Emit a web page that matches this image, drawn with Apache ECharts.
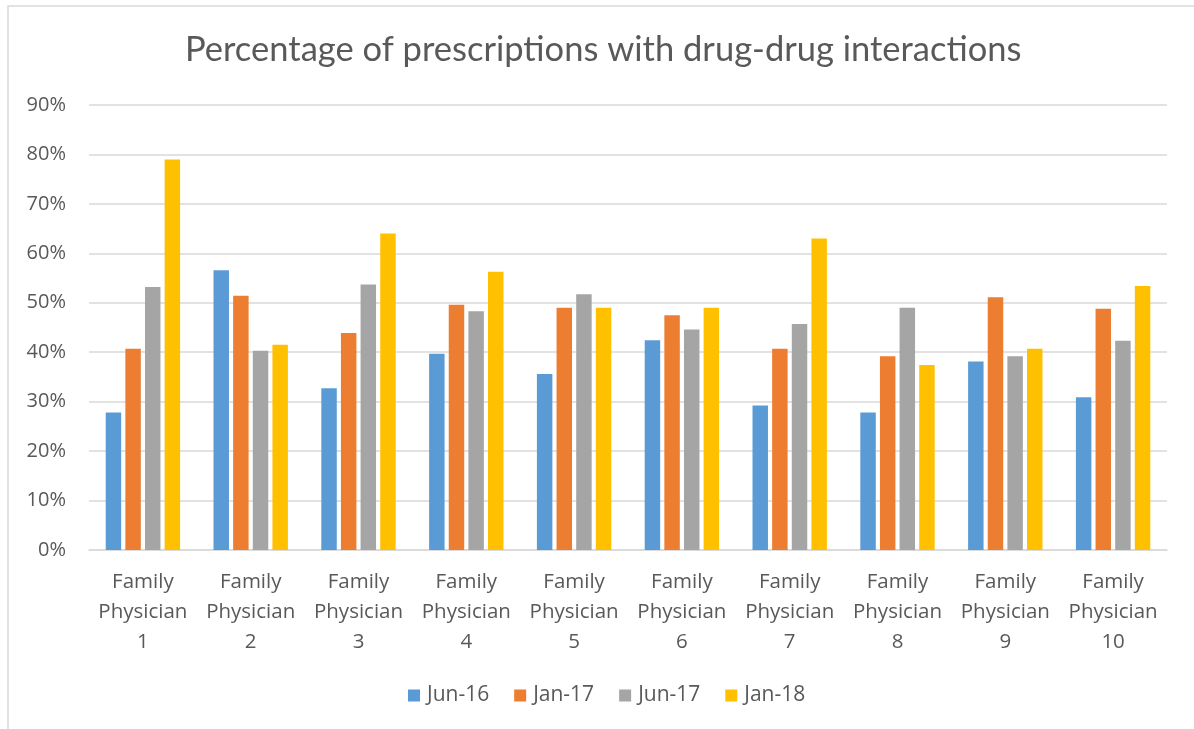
<!DOCTYPE html>
<html>
<head>
<meta charset="utf-8">
<style>
  html, body { margin: 0; padding: 0; background: #ffffff; }
  #chart { width: 1194px; height: 729px; }
</style>
<script src="https://cdn.jsdelivr.net/npm/echarts@6/dist/echarts.min.js"></script>
</head>
<body>
<div id="chart"></div>
<script>
// Categories: ten family physicians
const categories = [
  'Family\nPhysician\n1', 'Family\nPhysician\n2', 'Family\nPhysician\n3',
  'Family\nPhysician\n4', 'Family\nPhysician\n5', 'Family\nPhysician\n6',
  'Family\nPhysician\n7', 'Family\nPhysician\n8', 'Family\nPhysician\n9',
  'Family\nPhysician\n10'
];

// Share of prescriptions with drug-drug interactions (%), per survey period
const jun16 = [27.8, 56.6, 32.7, 39.7, 35.6, 42.4, 29.2, 27.8, 38.1, 30.9];
const jan17 = [40.7, 51.4, 43.9, 49.6, 49.0, 47.5, 40.7, 39.2, 51.1, 48.8];
const jun17 = [53.2, 40.3, 53.7, 48.3, 51.7, 44.6, 45.7, 49.0, 39.2, 42.3];
const jan18 = [79.0, 41.5, 64.0, 56.3, 49.0, 49.0, 63.0, 37.4, 40.7, 53.4];

const seriesNames = ['Jun-16', 'Jan-17', 'Jun-17', 'Jan-18'];
const seriesColors = ['#5B9BD5', '#ED7D31', '#A5A5A5', '#FFC000'];
const seriesValues = [jun16, jan17, jun17, jan18];

const textColor = '#595959';
const lineColor = '#D9D9D9';
const labelFont = '"Open Sans", "Noto Sans", sans-serif';

const chart = echarts.init(document.getElementById('chart'), null, { renderer: 'canvas' });

chart.setOption({
  animation: false,
  backgroundColor: '#ffffff',
  title: {
    text: 'Percentage of prescriptions with drug-drug interactions',
    left: 180,
    top: 27,
    textStyle: {
      fontFamily: 'Lato, "Open Sans", sans-serif',
      fontWeight: 'normal',
      fontSize: 34.5,
      color: textColor
    }
  },
  legend: {
    top: 680,
    left: 403,
    itemWidth: 12,
    itemHeight: 12,
    itemGap: 25,
    icon: 'rect',
    textStyle: { fontFamily: labelFont, fontSize: 21, color: textColor, padding: [0, 0, 0, 2] },
    data: seriesNames
  },
  grid: {
    left: 89,
    right: 27,
    top: 105,
    bottom: 179,
    containLabel: false
  },
  xAxis: {
    type: 'category',
    data: categories,
    axisLine: { lineStyle: { color: lineColor, width: 1.5 } },
    axisTick: { show: false },
    axisLabel: {
      interval: 0,
      margin: 17,
      fontFamily: labelFont,
      fontSize: 20.5,
      lineHeight: 30,
      color: textColor
    }
  },
  yAxis: {
    type: 'value',
    min: 0,
    max: 90,
    interval: 10,
    axisLine: { show: false },
    axisTick: { show: false },
    splitLine: { lineStyle: { color: lineColor, width: 1.5 } },
    axisLabel: {
      margin: 23,
      fontFamily: labelFont,
      fontSize: 20,
      color: textColor,
      formatter: '{value}%'
    }
  },
  graphic: [{
    type: 'rect',
    shape: { x: 8, y: 6, width: 1220, height: 760 },
    style: { fill: 'none', stroke: lineColor, lineWidth: 1.5 },
    silent: true
  }],
  series: seriesNames.map((name, i) => ({
    name: name,
    type: 'bar',
    data: seriesValues[i],
    barCategoryGap: '31%',
    barGap: '27%',
    itemStyle: { color: seriesColors[i] }
  }))
});
</script>
</body>
</html>
